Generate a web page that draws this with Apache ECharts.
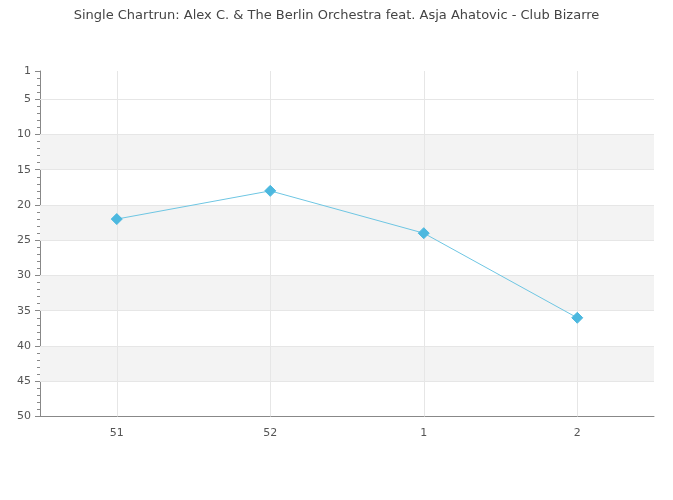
<!DOCTYPE html>
<html>
<head>
<meta charset="utf-8">
<script src="https://cdn.jsdelivr.net/npm/echarts@6/dist/echarts.min.js"></script>
<style>html,body{margin:0;padding:0;background:#fff;}#c{width:673px;height:500px;}</style>
</head>
<body>
<div id="c"></div>
<script>
const titleText = 'Single Chartrun: Alex C. & The Berlin Orchestra feat. Asja Ahatovic - Club Bizarre';
const categories = ['51', '52', '1', '2'];
const positions = [22, 18, 24, 36];
const yTickLabels = [1, 5, 10, 15, 20, 25, 30, 35, 40, 45, 50];
const yGridLines = [5, 10, 15, 20, 25, 30, 35, 40, 45];
const bands = [[10, 15], [20, 25], [30, 35], [40, 45]];

const font = 'DejaVu Sans';
const chart = echarts.init(document.getElementById('c'));
chart.setOption({
  animation: false,
  title: {
    text: titleText, left: 'center', top: 4,
    textStyle: { fontFamily: font, fontSize: 13, fontWeight: 'normal', color: '#444' }
  },
  grid: { left: 40, right: 19, top: 71, bottom: 83.5, containLabel: false },
  xAxis: {
    type: 'category', data: categories, boundaryGap: true,
    axisLine: { lineStyle: { color: '#888', width: 1 } },
    axisTick: { alignWithLabel: true, length: 5, lineStyle: { color: '#888' } },
    axisLabel: { fontFamily: font, fontSize: 11, color: '#555', margin: 11 },
    splitLine: { show: false }
  },
  yAxis: [{
    type: 'value', inverse: true, min: 1, max: 50,
    axisLine: { show: true, lineStyle: { color: '#888', width: 1 } },
    axisTick: { show: true, length: 5, customValues: yTickLabels, lineStyle: { color: '#888' } },
    axisLabel: { fontFamily: font, fontSize: 11, color: '#555', margin: 9, customValues: yTickLabels },
    splitLine: { show: false }
  }, {
    type: 'value', inverse: true, min: 1, max: 50, interval: 1,
    position: 'left',
    axisLine: { show: false },
    axisTick: { show: true, length: 3, lineStyle: { color: '#888' } },
    axisLabel: { show: false },
    splitLine: { show: false }
  }],
  series: [{
    type: 'line', data: [], z: 1, silent: true,
    markArea: {
      silent: true,
      itemStyle: { color: '#f3f3f3' },
      data: bands.map(b => [{ yAxis: b[0] }, { yAxis: b[1] }])
    },
    markLine: {
      silent: true, symbol: 'none', label: { show: false },
      lineStyle: { color: '#e6e6e6', width: 1, type: 'solid' },
      data: yGridLines.map(v => ({ yAxis: v })).concat(categories.map(c => ({ xAxis: c })))
    }
  }, {
    type: 'line', data: positions, z: 5,
    symbol: 'diamond', symbolSize: 11, showAllSymbol: true,
    lineStyle: { color: '#6ec6e3', width: 1 },
    itemStyle: { color: '#4cb8df', borderColor: '#4cb8df', borderWidth: 1, borderJoin: 'round' }
  }]
});
</script>
</body>
</html>
